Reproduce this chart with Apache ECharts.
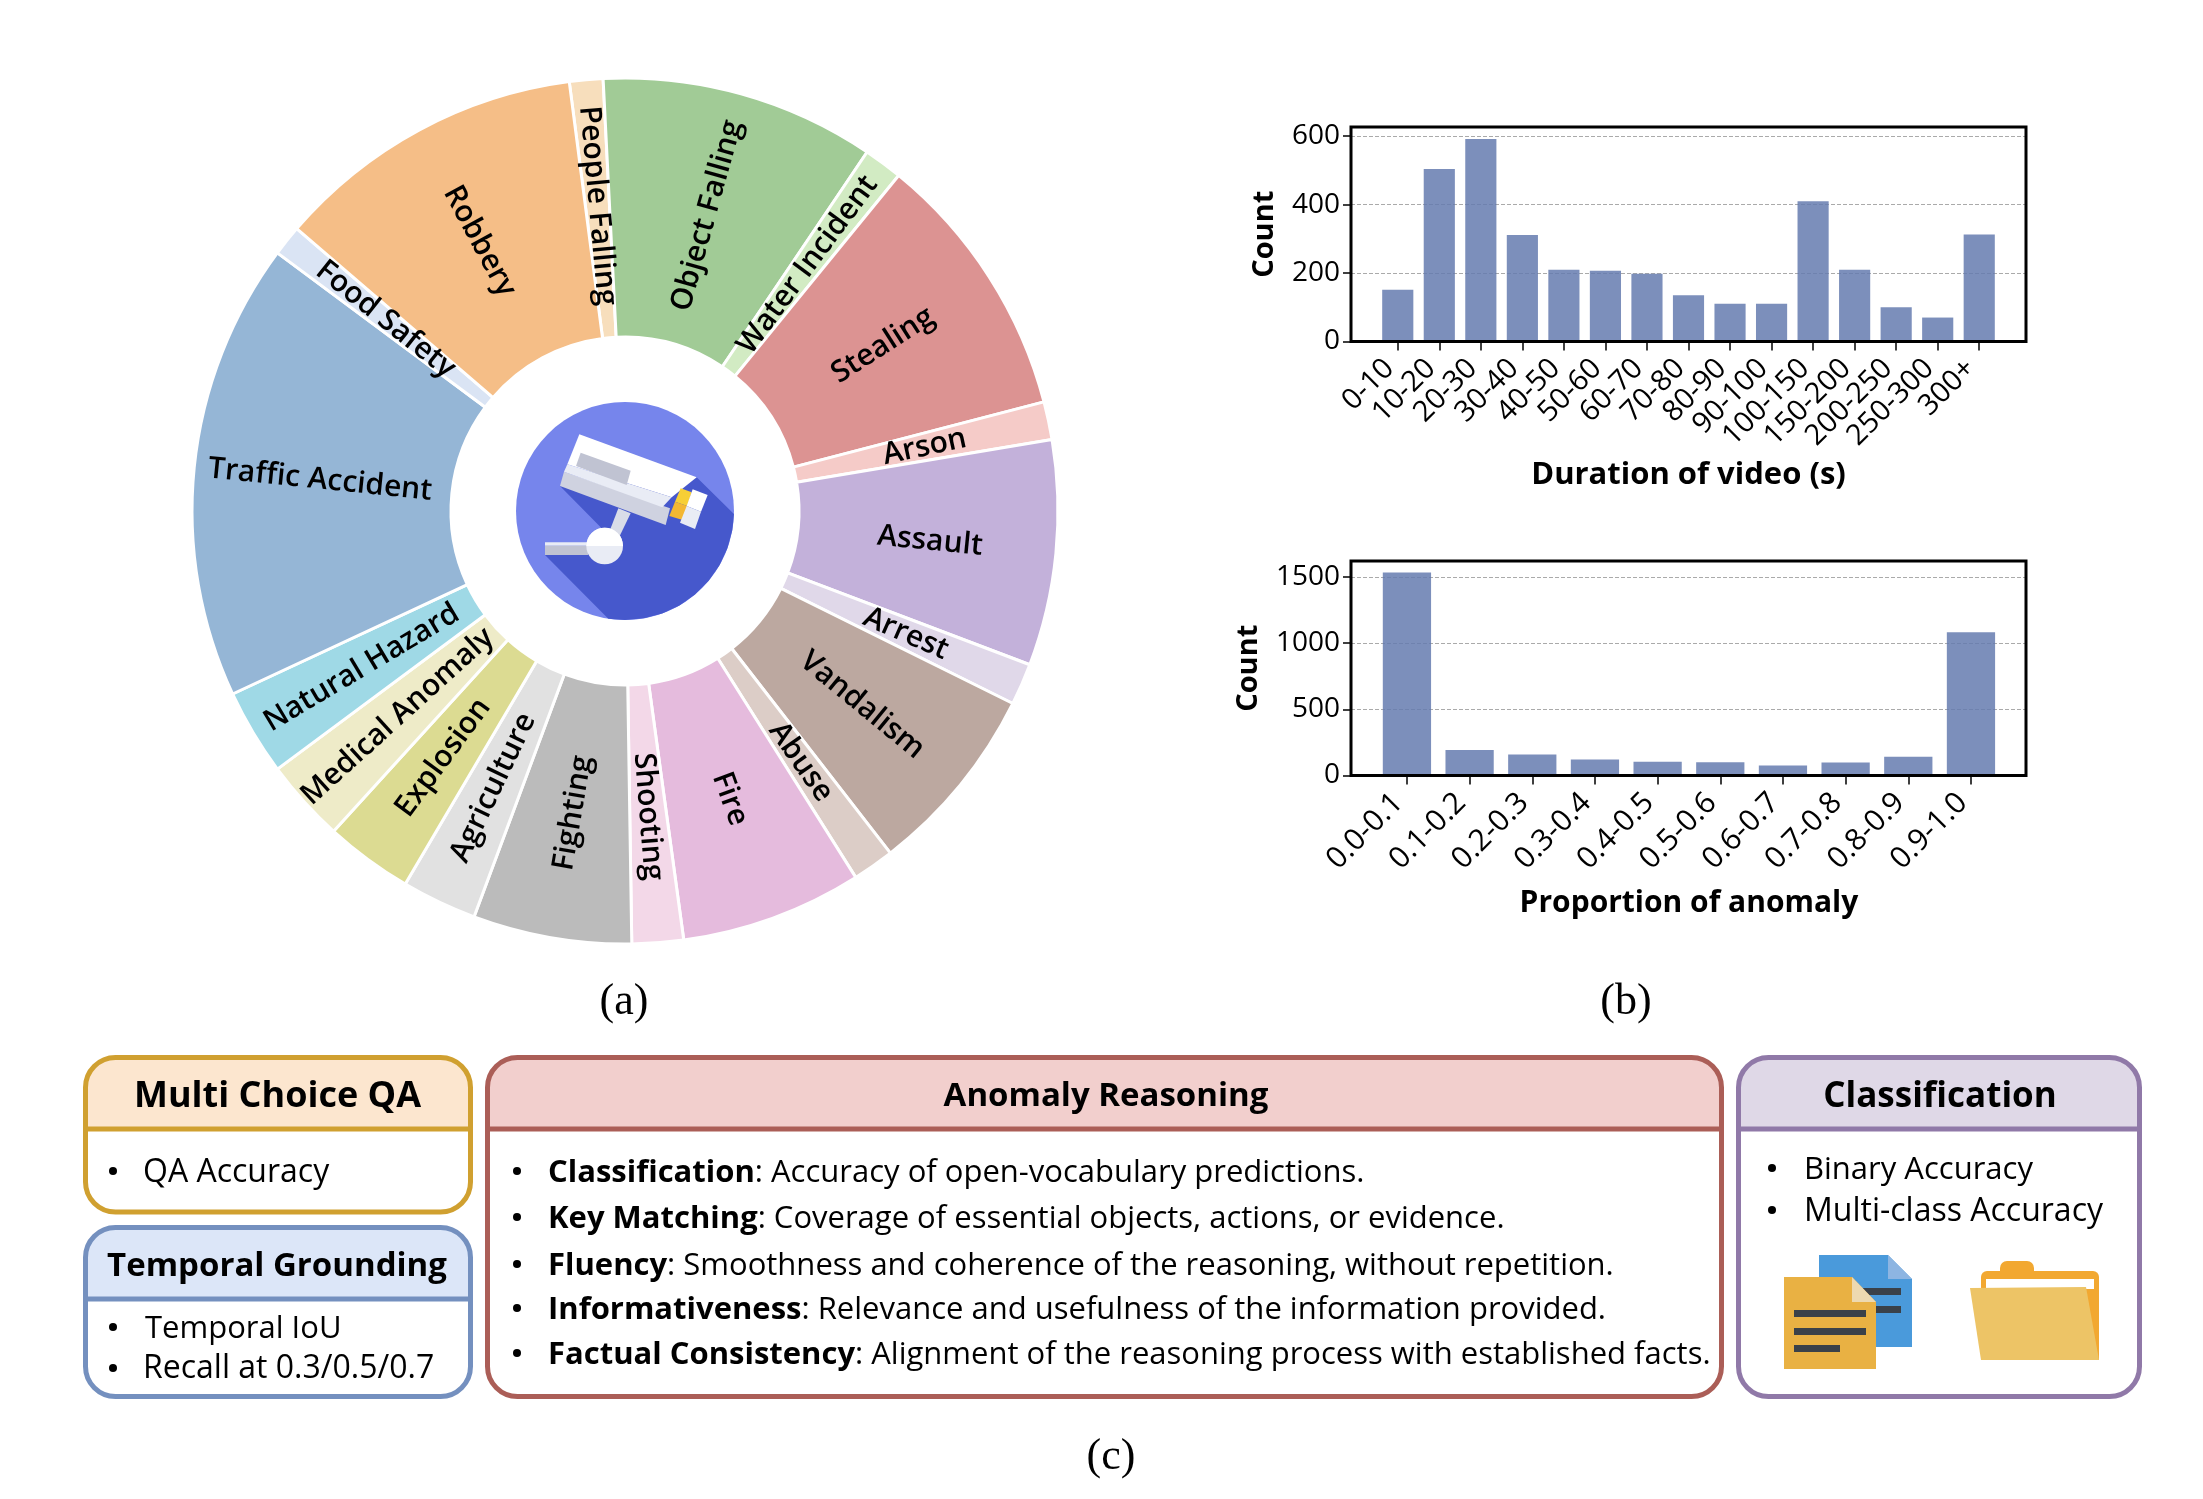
<!DOCTYPE html>
<html><head><meta charset="utf-8">
<style>html,body{margin:0;padding:0;background:#fff}#c{width:2203px;height:1499px}</style>
<script src="https://cdn.jsdelivr.net/npm/echarts@6/dist/echarts.min.js"></script>
</head><body><div id="c"></div>
<script>
const sliceNames = ['People Falling','Object Falling','Water Incident','Stealing','Arson','Assault','Arrest','Vandalism','Abuse','Fire','Shooting','Fighting','Agriculture','Explosion','Medical Anomaly','Natural Hazard','Traffic Accident','Food Safety','Robbery'];
const sliceValues = [4.5,36.9,5.2,36.2,5.1,30.3,5.6,25.8,5.6,24.4,6.9,21.3,10.1,11.8,11.1,11.6,61.6,4.1,41.9];
const sliceColors = ['#F7DEBC','#A1CB96','#D2EBC3','#DC9392','#F5CBC8','#C3B1DA','#E0D8E9','#BCA8A0','#DCCDC7','#E5BBDD','#F3D8E8','#BBBBBB','#E1E1E1','#DCDB92','#EEEBC8','#9FD9E6','#95B6D6','#DAE4F4','#F5BE87'];
const durationLabels = ['0-10','10-20','20-30','30-40','40-50','50-60','60-70','70-80','80-90','90-100','100-150','150-200','200-250','250-300','300+'];
const durationCounts = [151,504,592,311,210,207,198,135,110,110,410,210,100,70,313];
const durationTicks = [0,200,400,600];
const proportionLabels = ['0.0-0.1','0.1-0.2','0.2-0.3','0.3-0.4','0.4-0.5','0.5-0.6','0.6-0.7','0.7-0.8','0.8-0.9','0.9-1.0'];
const proportionCounts = [1535,192,159,121,104,101,76,98,141,1083];
const proportionTicks = [0,500,1000,1500];

const FONT = '"Comic Sans MS","Open Sans",sans-serif';
const SERIF = '"Liberation Serif",serif';
const BAR = 'rgba(101,123,175,0.85)';

function frameAxes(g, yMax, ticks, gap){
  return {
    x:{type:'value',gridIndex:g,min:0,max:1,show:false},
    y:{type:'value',gridIndex:g,min:0,max:yMax,name:'Count',nameLocation:'middle',nameGap:gap,
       nameTextStyle:{fontFamily:FONT,fontSize:29,fontWeight:'bold',color:'#000'},
       axisLine:{show:false},
       axisTick:{show:true,length:8,customValues:ticks,lineStyle:{color:'#000',width:1.5}},
       axisLabel:{customValues:ticks,margin:11,fontFamily:FONT,fontSize:28,color:'#000',formatter:v=>String(v)},
       splitLine:{show:true,lineStyle:{type:'dashed',color:'#aaa',width:1}}}
  };
}
function bandAxes(g, labels, yMax, title, gap, labelSize, titleSize){
  return {
    x:{type:'category',gridIndex:g,data:labels,name:title,nameLocation:'middle',nameGap:gap,
       nameTextStyle:{fontFamily:FONT,fontSize:titleSize,fontWeight:'bold',color:'#000'},
       axisLine:{show:false},
       axisTick:{show:true,alignWithLabel:true,length:9,lineStyle:{color:'#000',width:1.5}},
       axisLabel:{interval:0,rotate:45,margin:14,padding:[0,12,0,0],hideOverlap:false,fontFamily:FONT,fontSize:labelSize,color:'#000'},
       splitLine:{show:false}},
    y:{type:'value',gridIndex:g,min:0,max:yMax,show:false,splitLine:{show:false}}
  };
}
const f1 = frameAxes(0,627,durationTicks,72);
const b1 = bandAxes(1,durationLabels,627,'Duration of video (s)',118,29,31);
const f2 = frameAxes(2,1621,proportionTicks,88);
const b2 = bandAxes(3,proportionLabels,1621,'Proportion of anomaly',113,30,30);

// ---- box panels (decoration, not data)
function box(x0,y0,x1,y1,div,border,head){
  const lw=5,r=30;
  return [
    {type:'rect',z:1,shape:{x:x0,y:y0,width:x1-x0,height:div-y0,r:[r,r,0,0]},style:{fill:head}},
    {type:'line',z:2,shape:{x1:x0,y1:div,x2:x1,y2:div},style:{stroke:border,lineWidth:lw}},
    {type:'rect',z:3,shape:{x:x0,y:y0,width:x1-x0,height:y1-y0,r},style:{fill:'none',stroke:border,lineWidth:lw}}
  ];
}
function txt(x,y,t,size,opt){
  opt=opt||{};
  return {type:'text',z:5,x,y,style:Object.assign({text:t,fontFamily:opt.family||FONT,fontSize:size,fontWeight:opt.weight||'normal',
    fill:'#000',align:opt.align||'left',verticalAlign:'middle'},opt.rich?{rich:opt.rich}:{})};
}
function bullet(x,y){return {type:'circle',z:5,shape:{cx:x,cy:y,r:4},style:{fill:'#000'}};}
const boldRich={b:{fontFamily:FONT,fontSize:31,fontWeight:'bold',fill:'#000'},n:{fontFamily:FONT,fontSize:31,fill:'#000'}};
function poly(points,fill,z){return {type:'polygon',z:z||6,shape:{points},style:{fill}};}
function rect(x,y,w,h,fill,z,r){return {type:'rect',z:z||6,shape:{x,y,width:w,height:h,r:r||0},style:{fill}};}

// ---- camera icon
const cam=(X,Y)=>[490+X/3,380+Y/3];
const camP=a=>a.map(p=>cam(p[0],p[1]));
const shadowArc=[];
[98.8,90,80,70,60,50,40,30,20,10,1.6].forEach(d=>{const t=d*Math.PI/180;shadowArc.push([405+327*Math.cos(t),393+327*Math.sin(t)]);});
const cameraIcon=[
  {type:'circle',z:6,shape:{cx:625,cy:511,r:109},style:{fill:'#7685EC'}},
  poly(camP([[210,318],[335,445],[290,525],[165,525]].concat(shadowArc).concat([[620,292]])),'#4658CC',7),
  poly(camP([[385,385],[422,400],[388,470],[360,450]]),'#D9DCE8',8),
  rect(...cam(165,487),130/3,10/3,'#E9ECF5',8),
  rect(...cam(165,497),130/3,28/3,'#C0C3D2',8),
  {type:'circle',z:9,shape:{cx:cam(344,498)[0],cy:cam(344,498)[1],r:55/3},style:{fill:'#E9ECF5'}},
  {type:'sector',z:9,shape:{cx:cam(344,498)[0],cy:cam(344,498)[1],r:55/3,r0:0,startAngle:Math.PI,endAngle:2*Math.PI},style:{fill:'#fff'}},
  poly(camP([[222,275],[540,385],[527,435],[210,318]]),'#CFD2E0',8),
  poly(camP([[268,163],[620,292],[545,352],[232,253]]),'#fff',8),
  poly(camP([[232,253],[545,352],[517,382],[222,275]]),'#E9ECF5',9),
  poly(camP([[272,218],[422,272],[410,315],[258,258]]),'#C0C3D2',9),
  poly(camP([[572,325],[605,337],[592,378],[555,365]]),'#F7CF36',9),
  poly(camP([[555,365],[592,378],[578,420],[538,408]]),'#F3B733',9),
  poly(camP([[608,328],[653,345],[633,395],[590,378]]),'#fff',9),
  poly(camP([[590,378],[633,395],[615,447],[570,428]]),'#E9ECF5',9)
];
// ---- document & folder icons
const fileIcons=[
  poly([[1819,1255],[1888,1255],[1912,1279],[1912,1347],[1819,1347]],'#4A9ADB',6),
  poly([[1888,1255],[1912,1279],[1888,1279]],'#8DB5E2',7),
  rect(1861,1288,40,7,'#3A4149',7), rect(1861,1306,40,7,'#3A4149',7),
  poly([[1784,1277],[1852,1277],[1876,1302],[1876,1369],[1784,1369]],'#E9B143',8),
  poly([[1852,1277],[1876,1302],[1852,1302]],'#EDD9B0',9),
  rect(1794,1310,72,7,'#3A4149',9), rect(1794,1328,72,7,'#3A4149',9), rect(1794,1345,46,7,'#3A4149',9),
  rect(2000,1261,34,20,'#F2A831',6,[7,7,0,0]),
  rect(1981,1271,118,89,'#F2A831',6,[6,6,0,0]),
  rect(1986,1279,108,10,'#fff',7),
  poly([[1970,1288],[2086,1287],[2099,1360],[1981,1360]],'#EDC466',8)
];

const graphics=[].concat(
  cameraIcon,fileIcons,
  box(85.5,1057.5,470.5,1212,1129,'#D0A030','#FCE6CF'),
  box(85.5,1227.5,470.5,1396.5,1299,'#7490BF','#DCE6F8'),
  box(487.5,1057.5,1721.5,1396.5,1129,'#AB5E57','#F2CFCD'),
  box(1738.5,1057.5,2139.5,1396.5,1129,'#9079A8','#DFD8E7'),
  [
   txt(277.5,1097,'Multi Choice QA',36,{weight:'bold',align:'center'}),
   txt(277,1267,'Temporal Grounding',33,{weight:'bold',align:'center'}),
   txt(1106,1097,'Anomaly Reasoning',33,{weight:'bold',align:'center'}),
   txt(1940,1097,'Classification',35,{weight:'bold',align:'center'}),
   bullet(113,1171), txt(143,1173,'QA Accuracy',32),
   bullet(113,1327), txt(145,1329,'Temporal IoU',31),
   bullet(113,1368), txt(143,1369,'Recall at 0.3/0.5/0.7',32),
   bullet(517,1171), txt(548,1173,'{b|Classification}{n|: Accuracy of open-vocabulary predictions.}',31,{rich:boldRich}),
   bullet(517,1217), txt(548,1219,'{b|Key Matching}{n|: Coverage of essential objects, actions, or evidence.}',31,{rich:boldRich}),
   bullet(517,1264), txt(548,1266,'{b|Fluency}{n|: Smoothness and coherence of the reasoning, without repetition.}',31,{rich:boldRich}),
   bullet(517,1308), txt(548,1310,'{b|Informativeness}{n|: Relevance and usefulness of the information provided.}',31,{rich:boldRich}),
   bullet(517,1353), txt(548,1355,'{b|Factual Consistency}{n|: Alignment of the reasoning process with established facts.}',31,{rich:boldRich}),
   bullet(1772,1168), txt(1804,1170,'Binary Accuracy',31),
   bullet(1772,1210), txt(1804,1212,'Multi-class Accuracy',32),
   txt(624,1002,'(a)',44,{family:SERIF,align:'center'}),
   txt(1626,1002,'(b)',44,{family:SERIF,align:'center'}),
   txt(1111,1457,'(c)',44,{family:SERIF,align:'center'})
  ]
);

const chart=echarts.init(document.getElementById('c'),null,{renderer:'canvas'});
const frameGrid=(left,top,w,h)=>({left,top,width:w,height:h,show:true,z:5,borderColor:'#000',borderWidth:3,backgroundColor:'transparent',containLabel:false});
const bandGrid=(left,top,w,h)=>({left,top,width:w,height:h,show:false,containLabel:false});
chart.setOption({
  animation:false,
  backgroundColor:'#fff',
  grid:[frameGrid(1351,127,675,214.5),bandGrid(1377,127,623,214.5),frameGrid(1351,561,675,214.5),bandGrid(1375.6,561,626.7,214.5)],
  xAxis:[f1.x,b1.x,f2.x,b2.x],
  yAxis:[f1.y,b1.y,f2.y,b2.y],
  series:[
    {type:'pie',center:[625,511],radius:[174,433],startAngle:97.4,clockwise:true,silent:true,avoidLabelOverlap:false,
     data:sliceNames.map((n,i)=>({name:n,value:sliceValues[i],itemStyle:{color:sliceColors[i]}})),
     itemStyle:{borderColor:'#fff',borderWidth:3},
     label:{show:true,position:'inside',rotate:'radial',formatter:'{b}',fontFamily:FONT,fontSize:30,fontWeight:600,color:'#000',overflow:'none'},
     labelLine:{show:false}},
    {type:'bar',xAxisIndex:1,yAxisIndex:1,data:durationCounts,barWidth:'75%',itemStyle:{color:BAR},silent:true},
    {type:'bar',xAxisIndex:3,yAxisIndex:3,data:proportionCounts,barWidth:'77%',itemStyle:{color:BAR},silent:true}
  ],
  graphic:{elements:graphics}
});
</script></body></html>
